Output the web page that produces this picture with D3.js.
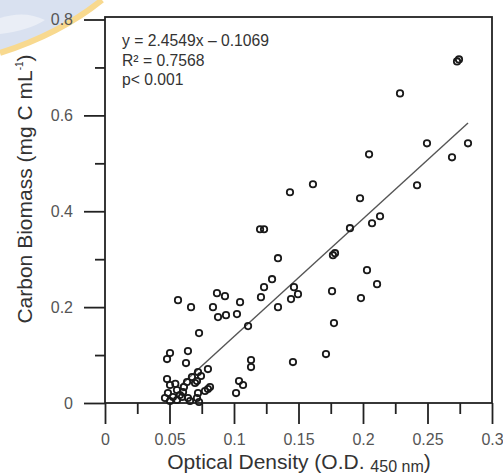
<!DOCTYPE html>
<html lang="en">
<head>
  <meta charset="UTF-8">
  <title>Carbon Biomass vs Optical Density</title>
  <style>
    body, html { margin: 0; padding: 0; background: white; }
    svg { display: block; font-family: "Liberation Sans", Arial, sans-serif; }
  </style>
</head>
<body>
  <script src="https://d3js.org/d3.v7.min.js"></script>
  <script>
    // optical density (x) and carbon biomass (y) for each sample
    const odValues = [
      0.2729, 0.2744, 0.2287, 0.2496, 0.2814, 0.2690, 0.2047, 0.1612, 0.1434, 0.1977,
      0.2419, 0.2070, 0.2132, 0.1899, 0.1783, 0.1767, 0.2031, 0.2109, 0.1760, 0.1984,
      0.1775, 0.1713, 0.1457, 0.1465, 0.1496, 0.1442, 0.1341, 0.1202, 0.1233, 0.1295,
      0.1233, 0.1209, 0.1341, 0.1109, 0.1047, 0.1023, 0.0938, 0.0876, 0.0930, 0.0868,
      0.0837, 0.0667, 0.0566, 0.0729, 0.0504, 0.0481, 0.0643, 0.0628, 0.1132, 0.1132,
      0.0798, 0.0744, 0.1039, 0.1070, 0.1016, 0.0481, 0.0504, 0.0636, 0.0698, 0.0674,
      0.0721, 0.0798, 0.0814, 0.0775, 0.0721, 0.0605, 0.0558, 0.0488, 0.0465, 0.0504,
      0.0558, 0.0597, 0.0643, 0.0659, 0.0713, 0.0729, 0.0612, 0.0581, 0.0527, 0.0713,
      0.0545
    ];
    const biomassValues = [
      0.7125, 0.7167, 0.6458, 0.5417, 0.5417, 0.5125, 0.5188, 0.4563, 0.4396, 0.4271,
      0.4542, 0.3750, 0.3896, 0.3646, 0.3125, 0.3083, 0.2771, 0.2479, 0.2333, 0.2188,
      0.1667, 0.1021, 0.0854, 0.2417, 0.2271, 0.2167, 0.3021, 0.3625, 0.3625, 0.2583,
      0.2417, 0.2208, 0.2000, 0.1604, 0.2104, 0.1854, 0.1833, 0.1792, 0.2229, 0.2292,
      0.2000, 0.2000, 0.2146, 0.1458, 0.1042, 0.0917, 0.1083, 0.0833, 0.0896, 0.0750,
      0.0708, 0.0563, 0.0458, 0.0375, 0.0208, 0.0500, 0.0375, 0.0438, 0.0417, 0.0542,
      0.0646, 0.0292, 0.0333, 0.0250, 0.0208, 0.0229, 0.0271, 0.0208, 0.0104, 0.0042,
      0.0063, 0.0125, 0.0104, 0.0042, 0.0104, 0.0021, 0.0333, 0.0167, 0.0125, 0.0458,
      0.0400
    ];

    // regression fit
    const slope = 2.4549;
    const intercept = -0.1069;
    const fitRange = [0.058, 0.2814];
    const fitLabels = ['y = 2.4549x \u2013 0.1069', 'R\u00b2 = 0.7568', 'p< 0.001'];

    // tick values
    const xMajor = [0, 0.05, 0.1, 0.15, 0.2, 0.25, 0.3];
    const xMinor = [0.025, 0.075, 0.125, 0.175, 0.225, 0.275];
    const yMajor = [0, 0.2, 0.4, 0.6, 0.8];
    const yMinor = [0.1, 0.3, 0.5, 0.7];

    const width = 503;
    const height = 476;
    const plotLeft = 105, plotRight = 492, plotTop = 17, plotBottom = 403;

    const svg = d3.select('body')
      .append('svg')
      .attr('width', width)
      .attr('height', height);

    // faint watermark in the corner
    svg.append('path')
      .attr('d', 'M0,0 L102,0 Q60,34 0,53 Z')
      .attr('fill', '#d9e1f0');
    svg.append('path')
      .attr('d', 'M102,0 Q60,34 0,53')
      .attr('fill', 'none')
      .attr('stroke', '#f8d98f')
      .attr('stroke-width', 6);
    svg.append('path')
      .attr('d', 'M0,18 Q25,10 45,20 Q30,30 0,34 Z')
      .attr('fill', '#eaeef6');

    const x = d3.scaleLinear().domain([0, 0.3]).range([plotLeft, plotRight]);
    const y = d3.scaleLinear().domain([0, 0.8]).range([plotBottom, 19.5]);

    // axes: majors with labels, minors without
    const fmt = d => d === 0 ? '0' : String(d);

    svg.append('g')
      .attr('transform', `translate(0,${plotBottom})`)
      .call(d3.axisBottom(x).tickValues(xMajor).tickFormat(fmt).tickSize(21).tickPadding(10).tickSizeOuter(0));
    svg.append('g')
      .attr('transform', `translate(0,${plotBottom})`)
      .call(d3.axisBottom(x).tickValues(xMinor).tickFormat('').tickSize(11).tickSizeOuter(0));

    svg.append('g')
      .attr('transform', `translate(${plotLeft},0)`)
      .call(d3.axisLeft(y).tickValues(yMajor).tickFormat(fmt).tickSize(21).tickPadding(11).tickSizeOuter(0));
    svg.append('g')
      .attr('transform', `translate(${plotLeft},0)`)
      .call(d3.axisLeft(y).tickValues(yMinor).tickFormat('').tickSize(10).tickSizeOuter(0));

    svg.selectAll('.domain').remove();
    svg.selectAll('.tick line').attr('stroke', '#222').attr('stroke-width', 1.8);
    svg.selectAll('.tick text')
      .attr('font-family', '"Liberation Sans", Arial, sans-serif')
      .attr('font-size', 16)
      .attr('fill', '#555');

    // plot frame
    svg.append('rect')
      .attr('x', plotLeft)
      .attr('y', plotTop)
      .attr('width', plotRight - plotLeft)
      .attr('height', plotBottom - plotTop)
      .attr('fill', 'none')
      .attr('stroke', '#222')
      .attr('stroke-width', 1.8);

    // regression line
    svg.append('line')
      .attr('x1', x(fitRange[0]))
      .attr('y1', y(slope * fitRange[0] + intercept))
      .attr('x2', x(fitRange[1]))
      .attr('y2', y(slope * fitRange[1] + intercept))
      .attr('stroke', '#555')
      .attr('stroke-width', 1.4);

    // points
    svg.append('g')
      .selectAll('circle')
      .data(odValues.map((v, i) => [v, biomassValues[i]]))
      .enter()
      .append('circle')
      .attr('cx', d => x(d[0]))
      .attr('cy', d => y(d[1]))
      .attr('r', 3.2)
      .attr('fill', 'none')
      .attr('stroke', '#1a1a1a')
      .attr('stroke-width', 1.8);

    // fit annotation
    svg.append('g')
      .selectAll('text')
      .data(fitLabels)
      .enter()
      .append('text')
      .attr('x', 122)
      .attr('y', (d, i) => 46 + i * 19.5)
      .attr('font-size', 15.7)
      .attr('fill', '#333')
      .text(d => d);

    // axis titles
    const xt = svg.append('text')
      .attr('x', 299)
      .attr('y', 468.5)
      .attr('text-anchor', 'middle')
      .attr('font-size', 21)
      .attr('fill', '#333');
    xt.append('tspan').text('Optical Density (O.D. ');
    xt.append('tspan').attr('font-size', 16).attr('dy', 3.5).text('450 nm');
    xt.append('tspan').attr('dy', -3.5).text(')');

    const yt = svg.append('text')
      .attr('transform', 'translate(32,189) rotate(-90)')
      .attr('text-anchor', 'middle')
      .attr('font-size', 21)
      .attr('fill', '#333');
    yt.append('tspan').text('Carbon Biomass (mg C mL');
    yt.append('tspan').attr('font-size', 10).attr('dy', -9).text('-1');
    yt.append('tspan').attr('dy', 9).text(')');
  </script>
</body>
</html>
